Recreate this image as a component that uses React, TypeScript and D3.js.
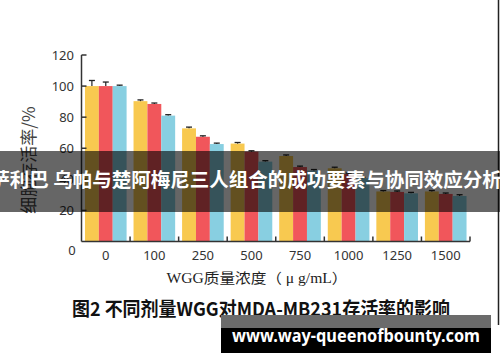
import React from "react";
import * as d3 from "d3";

const categories = ["0", "100", "250", "500", "750", "1000", "1250", "1500"];
const seriesNames = ["s1", "s2", "s3"];
const yellowValues = [100, 90.3, 72.8, 63, 55, 47.1, 32.2, 32.2];
const redValues = [100, 88.5, 67.4, 57.8, 47.9, 43.4, 31.9, 30.6];
const blueValues = [100, 81, 62.7, 51.4, 45.7, 40.7, 31, 29.3];
const yellowErr = [3.6, 0.8, 0.8, 0.7, 0.7, 0.7, 0.6, 0.6];
const redErr = [2.6, 0.6, 0.6, 0.6, 0.6, 0.6, 0.6, 0.6];
const blueErr = [0.6, 0.6, 0.6, 0.6, 0.6, 0.6, 0.6, 0.8];
const yTicks = [20, 40, 60, 80, 100, 120];
const colors = ["#F8C950", "#F1565B", "#88CFE1"];

const W = 500;
const H = 362;

export default function App() {
  const x = d3.scaleBand<string>().domain(categories).range([81.5, 470]).paddingInner(0).paddingOuter(0);
  const inner = d3.scaleBand<string>().domain(seriesNames).range([0, x.bandwidth()]).paddingInner(0).paddingOuter(0.25);
  const y = d3.scaleLinear().domain([0, 120]).range([241.5, 55]);
  const values = [yellowValues, redValues, blueValues];
  const errs = [yellowErr, redErr, blueErr];
  const axisColor = "#333";
  const x0 = x.range()[0];
  const x1 = x.range()[1];
  const y0 = y(0);
  const yTop = y(120);

  return (
    <svg width={W} height={H} style={{ position: "absolute", left: 0, top: 0, background: "#fff" }}>
      <rect x={0} y={0} width={W} height={H} fill="#fff" />
      {/* bars */}
      {categories.map((c, i) => (
        <g key={c} transform={`translate(${x(c)},0)`}>
          {seriesNames.map((s, j) => {
            const v = values[j][i];
            const bx = inner(s)!;
            const bw = inner.bandwidth();
            const e = errs[j][i];
            const cx = bx + bw / 2;
            return (
              <g key={s}>
                <rect x={bx} y={y(v)} width={bw} height={y0 - y(v)} fill={colors[j]} />
                <line x1={cx} x2={cx} y1={y(v)} y2={y(v + e)} stroke="#222" strokeWidth={1.2} />
                <line x1={cx - 3} x2={cx + 3} y1={y(v + e)} y2={y(v + e)} stroke="#222" strokeWidth={1.3} />
              </g>
            );
          })}
        </g>
      ))}
      {/* axes */}
      <line x1={x0} x2={x0} y1={yTop} y2={y0} stroke={axisColor} strokeWidth={1.5} />
      <line x1={x0} x2={x1} y1={y0} y2={y0} stroke={axisColor} strokeWidth={1.5} />
      {yTicks.map((t) => (
        <g key={t}>
          <line x1={x0} x2={x0 + 5} y1={y(t)} y2={y(t)} stroke={axisColor} strokeWidth={1.5} />
          <text x={74} y={y(t)} dy="0.35em" textAnchor="end" fontSize={13} fill="#333" fontFamily="Noto Sans, sans-serif">
            {t}
          </text>
        </g>
      ))}
      <text x={72} y={y0 + 9} dy="0.35em" textAnchor="middle" fontSize={13} fill="#333" fontFamily="Noto Sans, sans-serif">
        0
      </text>
      {categories.map((c) => (
        <g key={c}>
          <line x1={x(c)! + x.bandwidth()} x2={x(c)! + x.bandwidth()} y1={y0} y2={y0 - 5} stroke={axisColor} strokeWidth={1.5} />
          <text x={x(c)! + x.bandwidth() / 2} y={y0 + 14} dy="0.35em" textAnchor="middle" fontSize={13} fill="#333" fontFamily="Noto Sans, sans-serif">
            {c}
          </text>
        </g>
      ))}
      {/* axis titles */}
      <text x={257} y={283} textAnchor="middle" fontSize={14} fill="#222" fontFamily="Liberation Serif, 'Noto Sans CJK SC', serif" textLength={181} lengthAdjust="spacingAndGlyphs">
        WGG质量浓度（ μ g/mL）
      </text>
      <text transform="translate(35,160) rotate(-90)" textAnchor="middle" fontSize={17} fill="#444" fontFamily="'Noto Sans CJK SC', sans-serif">
        细胞存活率/%
      </text>
      {/* caption */}
      <text x={72} y={316} fontSize={19} fontWeight="bold" fill="#111" fontFamily="'Noto Sans CJK SC', sans-serif" textLength={378} lengthAdjust="spacingAndGlyphs">
        图2 不同剂量WGG对MDA-MB231存活率的影响
      </text>
      {/* right border */}
      <line x1={498.5} x2={498.5} y1={0} y2={325} stroke="#222" strokeWidth={1.5} />
      {/* banner overlay */}
      <rect x={0} y={151} width={W} height={61} fill="rgba(0,0,0,0.6)" />
      <text x={246} y={187} textAnchor="middle" fontSize={19.5} fontWeight="bold" fill="#fff" fontFamily="'Noto Sans CJK SC', sans-serif">
        萨利巴 乌帕与楚阿梅尼三人组合的成功要素与协同效应分析
      </text>
      {/* url box */}
      <rect x={221} y={315} width={270} height={13} fill="#6b6b6b" />
      <rect x={221} y={328} width={270} height={25} fill="#000" />
      <text x={232} y={342} fontSize={17} fontWeight="bold" fill="#fff" fontFamily="'Noto Sans', sans-serif" textLength={248} lengthAdjust="spacingAndGlyphs">
        www.way-queenofbounty.com
      </text>
    </svg>
  );
}
